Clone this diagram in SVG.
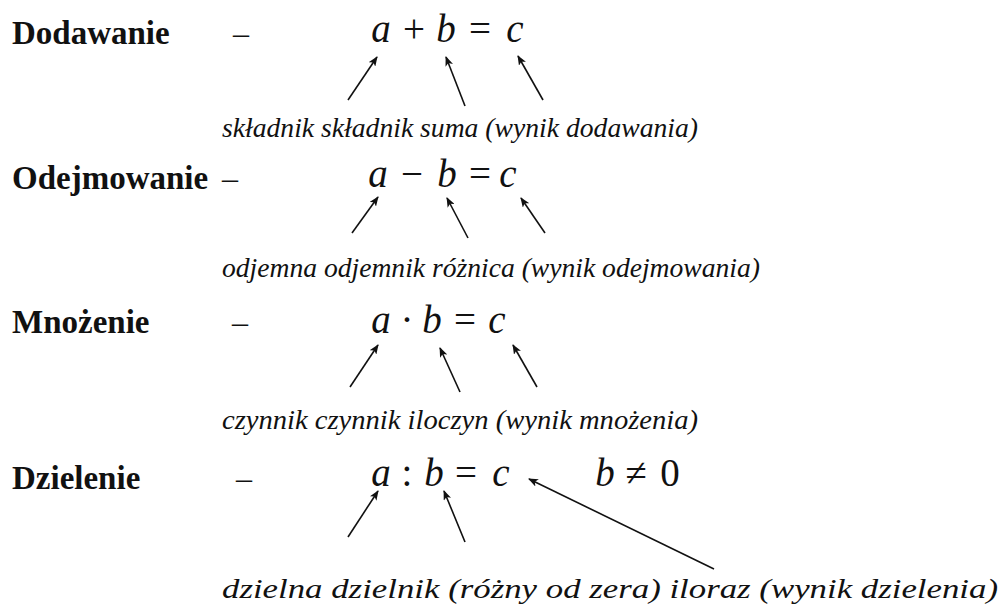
<svg xmlns="http://www.w3.org/2000/svg" width="1001" height="609" viewBox="0 0 1001 609">
<style>
.head{font-family:"Liberation Serif","Times New Roman",serif;font-weight:bold;font-size:33px;fill:#111}
.dash{font-family:"Liberation Serif","Times New Roman",serif;font-size:32px;fill:#111}
.math{font-family:"Liberation Serif","Times New Roman",serif;font-style:italic;font-size:39px;fill:#111;text-anchor:middle}
.op{font-style:normal}
.lbl{font-family:"Liberation Serif","Times New Roman",serif;font-style:italic;font-size:27px;fill:#111}
.arr{stroke:#111;stroke-width:1.6;fill:none;marker-end:url(#ah)}
</style>
<defs>
<marker id="ah" viewBox="0 0 10 8" refX="9" refY="4" markerWidth="10" markerHeight="8" markerUnits="userSpaceOnUse" orient="auto">
<path d="M0,0 L10,4 L0,8 L2.5,4 Z" fill="#111"/>
</marker>
</defs>
<rect width="1001" height="609" fill="#fff"/>

<g id="dodawanie">
<text class="head" x="12" y="44">Dodawanie</text>
<text class="dash" x="233" y="44">–</text>
<text class="math" y="42"><tspan x="381">a</tspan><tspan class="op" x="414">+</tspan><tspan x="446">b</tspan><tspan class="op" x="480">=</tspan><tspan x="515">c</tspan></text>
<text class="lbl" x="222" y="137" textLength="476" lengthAdjust="spacingAndGlyphs">składnik składnik suma (wynik dodawania)</text>
</g>

<g id="odejmowanie">
<text class="head" x="12" y="189">Odejmowanie</text>
<text class="dash" x="222" y="189">–</text>
<text class="math" y="187"><tspan x="378">a</tspan><tspan class="op" x="412">−</tspan><tspan x="447">b</tspan><tspan class="op" x="480">=</tspan><tspan x="508">c</tspan></text>
<text class="lbl" x="222" y="277" textLength="538" lengthAdjust="spacingAndGlyphs">odjemna odjemnik różnica (wynik odejmowania)</text>
</g>

<g id="mnozenie">
<text class="head" x="12" y="333">Mnożenie</text>
<text class="dash" x="232" y="333">–</text>
<text class="math" y="333"><tspan x="381">a</tspan><tspan class="op" x="407">·</tspan><tspan x="432">b</tspan><tspan class="op" x="465">=</tspan><tspan x="497">c</tspan></text>
<text class="lbl" x="222" y="429" textLength="476" lengthAdjust="spacingAndGlyphs">czynnik czynnik iloczyn (wynik mnożenia)</text>
</g>

<g id="dzielenie">
<text class="head" x="12" y="489">Dzielenie</text>
<text class="dash" x="236" y="489">–</text>
<text class="math" y="486"><tspan x="381">a</tspan><tspan class="op" x="407">:</tspan><tspan x="434">b</tspan><tspan class="op" x="466">=</tspan><tspan x="501">c</tspan></text>
<text class="math" y="486"><tspan x="605">b</tspan><tspan class="op" x="636">≠</tspan><tspan class="op" x="670">0</tspan></text>
<text class="lbl" x="222" y="598" font-size="30" textLength="776" lengthAdjust="spacingAndGlyphs">dzielna dzielnik (różny od zera) iloraz (wynik dzielenia)</text>
</g>

<g id="connectors">
<line class="arr" x1="348" y1="100" x2="377" y2="57"/>
<line class="arr" x1="465" y1="106" x2="446" y2="57"/>
<line class="arr" x1="543" y1="100" x2="518" y2="56"/>
<line class="arr" x1="352" y1="233" x2="378" y2="197"/>
<line class="arr" x1="468" y1="238" x2="447" y2="198"/>
<line class="arr" x1="545" y1="233" x2="521" y2="198"/>
<line class="arr" x1="350" y1="387" x2="378" y2="345"/>
<line class="arr" x1="460" y1="392" x2="440" y2="348"/>
<line class="arr" x1="537" y1="387" x2="513" y2="345"/>
<line class="arr" x1="348" y1="537" x2="378" y2="491"/>
<line class="arr" x1="465" y1="542" x2="444" y2="491"/>
<line class="arr" x1="714" y1="569" x2="529" y2="479"/>
</g>
</svg>
